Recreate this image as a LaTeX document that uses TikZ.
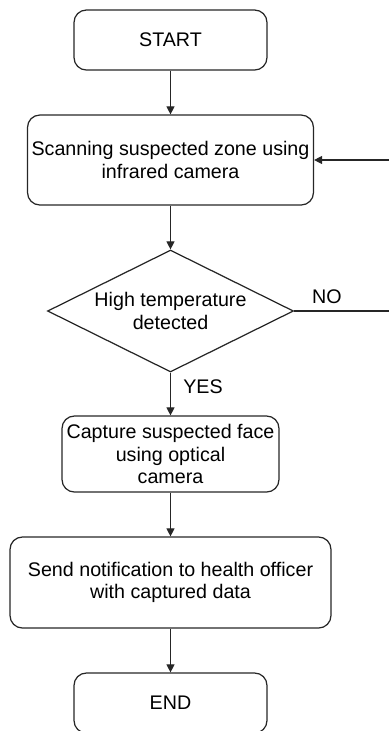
\documentclass[tikz,border=0pt]{standalone}
\usepackage{fontspec}
\setmainfont{Liberation Sans}
\usetikzlibrary{shapes}
\usetikzlibrary{positioning}
\usetikzlibrary{arrows.meta}
\tikzset{
    Step/.style = {rectangle, rounded corners=7pt, draw=black!85, align=center, line width=0.7pt, inner sep=2pt}
}
\tikzset{
    Decision/.style = {diamond, aspect=2, draw=black!85, align=center, line width=0.7pt, inner sep=0pt}
}
\tikzset{
    Edge/.style = {draw=black!85, line width=0.7pt, -{Triangle[length=4.6pt,width=4.6pt]}}
}
\begin{document}
\begin{tikzpicture}[
    x=0.02cm, y=-0.02cm,
    font=\fontsize{11.2}{12.8}\selectfont
]
\useasboundingbox (0,0) rectangle (389,731);
\node[Step, minimum width=3.86cm, minimum height=1.2cm] at (170.5,40) (start) {START};
\node[Step, minimum width=5.72cm, minimum height=1.8cm] at (170.5,160) (scan) {Scanning suspected zone using\\infrared camera};
\node[Decision, minimum width=4.92cm, minimum height=2.44cm] at (170.5,311) (detect) {High temperature\\detected};
\node[Step, minimum width=4.34cm, minimum height=1.52cm] at (170.5,454) (capture) {Capture suspected face\\using optical\\camera};
\node[Step, minimum width=6.42cm, minimum height=1.82cm] at (170.5,582.5) (notify) {Send notification to health officer\\with captured data};
\node[Step, minimum width=3.86cm, minimum height=1.2cm] at (170.5,703) (end) {END};
\coordinate (back) at (395,311);
\node at (327,297) (no) {NO};
\node at (203,387) (yes) {YES};
\path (start) edge [Edge] (scan);
\path (scan) edge [Edge] (detect);
\path (detect) edge [Edge] (capture);
\path (capture) edge [Edge] (notify);
\path (notify) edge [Edge] (end);
\draw[Edge] (detect.east) -- (back) |- (scan.east);
\end{tikzpicture}
\end{document}
